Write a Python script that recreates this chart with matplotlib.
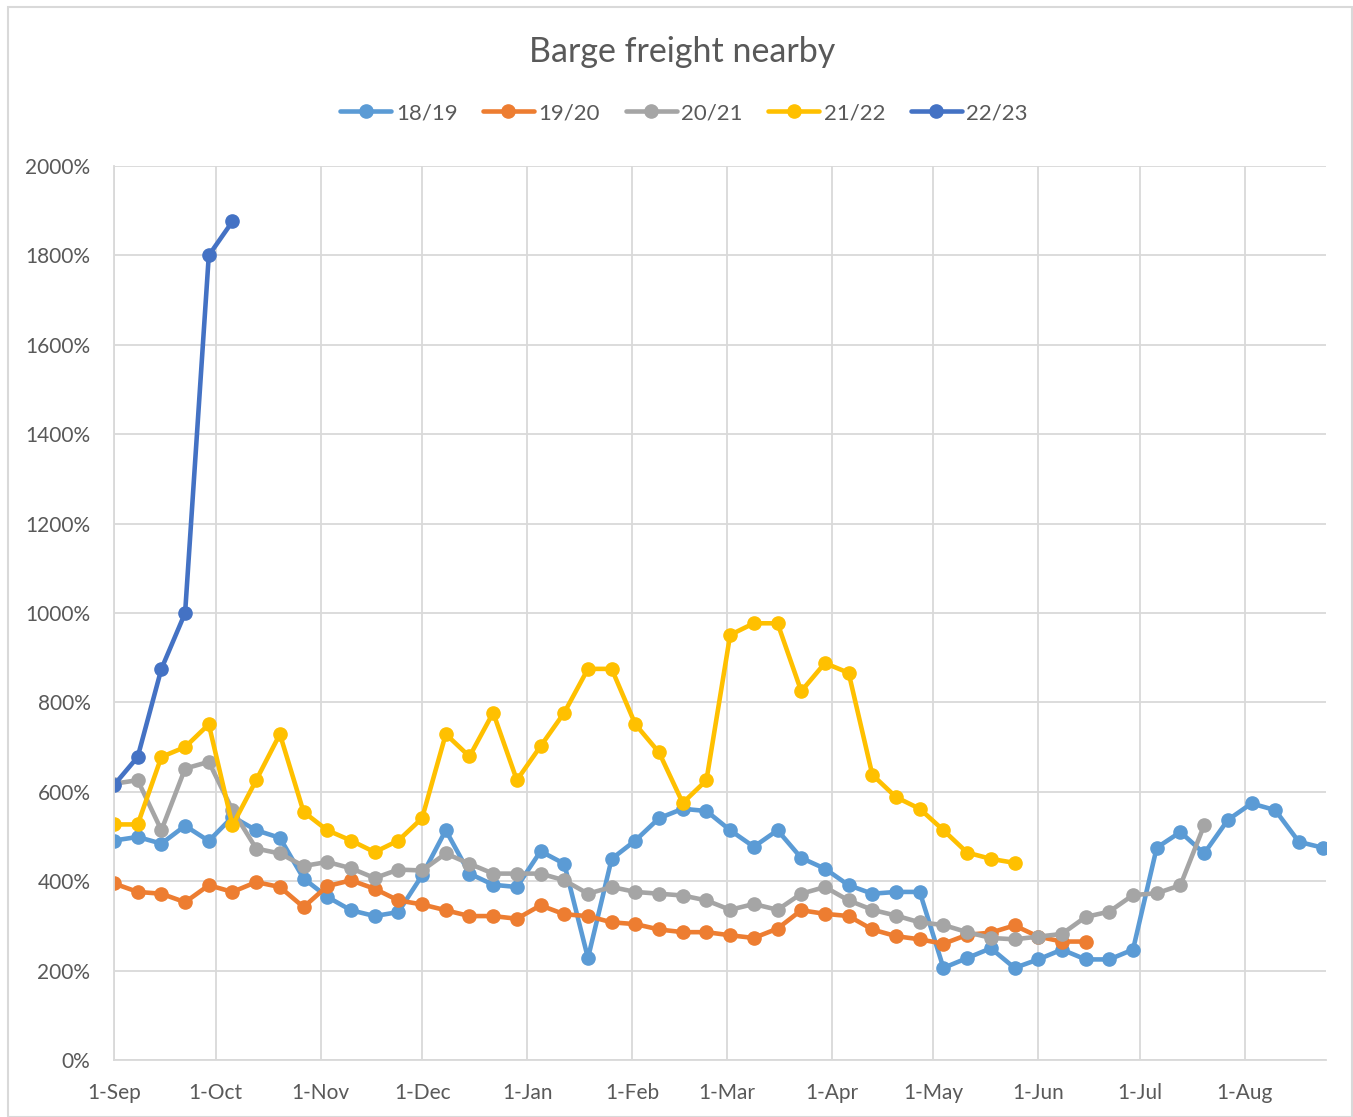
import pandas as pd
import matplotlib
matplotlib.use("Agg")
import matplotlib.pyplot as plt
import matplotlib.dates as mdates
from matplotlib.patches import Rectangle
from matplotlib.ticker import MultipleLocator, FuncFormatter

# weekly observations, season starts 1-Sep
start = pd.Timestamp("2018-09-01")

s1819 = [491, 499, 484, 524, 490, 544, 514, 497, 406, 365, 335, 322, 331, 413,
         514, 417, 392, 387, 467, 439, 228, 450, 491, 541, 562, 557, 514, 477,
         514, 452, 428, 391, 372, 376, 376, 206, 228, 250, 206, 225, 247, 225,
         225, 247, 475, 510, 462, 537, 574, 559, 488, 475]
s1920 = [395, 376, 372, 353, 391, 376, 398, 387, 342, 389, 402, 383, 357, 348,
         335, 322, 322, 316, 346, 326, 322, 308, 304, 292, 286, 286, 279, 273,
         294, 335, 327, 322, 292, 277, 270, 260, 280, 285, 301, 276, 265, 265]
s2021 = [618, 626, 514, 652, 667, 559, 473, 462, 434, 443, 429, 407, 426, 424,
         462, 439, 417, 417, 417, 402, 372, 387, 376, 372, 368, 357, 336, 349,
         336, 372, 387, 357, 336, 323, 308, 302, 286, 273, 270, 276, 282, 320,
         332, 369, 373, 391, 525]
s2122 = [527, 527, 678, 700, 751, 525, 626, 729, 555, 514, 491, 465, 491, 541,
         729, 679, 777, 626, 702, 777, 875, 875, 751, 688, 575, 626, 951, 977,
         977, 825, 888, 866, 638, 588, 562, 514, 464, 450, 441]
s2223 = [615, 678, 875, 1000, 1800, 1876]

series = [
    ("18/19", s1819, "#5B9BD5"),
    ("19/20", s1920, "#ED7D31"),
    ("20/21", s2021, "#A5A5A5"),
    ("21/22", s2122, "#FFC000"),
    ("22/23", s2223, "#4472C4"),
]

plt.rcParams["font.family"] = ["Lato", "DejaVu Sans"]
text_color = "#595959"
grid_color = "#D9D9D9"

fig = plt.figure(figsize=(13.53, 11.17), dpi=100)
ax = fig.add_axes([114 / 1353, 57 / 1117, 1212 / 1353, 894 / 1117])

for name, vals, color in series:
    dates = pd.date_range(start, periods=len(vals), freq="7D")
    ax.plot(dates, vals, color=color, lw=3.3, marker="o", markersize=9.5,
            label=name, solid_capstyle="round", solid_joinstyle="round")

ax.set_xlim(start, start + pd.Timedelta(days=358))
ax.set_ylim(0, 2000)
ax.yaxis.set_major_locator(MultipleLocator(200))
ax.yaxis.set_major_formatter(FuncFormatter(lambda v, p: f"{v:.0f}%"))
ax.xaxis.set_major_locator(mdates.MonthLocator())
ax.xaxis.set_major_formatter(mdates.DateFormatter("%-d-%b"))

ax.grid(True, color=grid_color, lw=1.3)
ax.set_axisbelow(True)
for side in ["top", "right"]:
    ax.spines[side].set_visible(False)
for side in ["left", "bottom"]:
    ax.spines[side].set_color(grid_color)
    ax.spines[side].set_linewidth(1.3)
ax.tick_params(axis="both", length=0, labelsize=15, labelcolor=text_color)
ax.tick_params(axis="y", pad=17)
ax.tick_params(axis="x", pad=16.5)

fig.text(682 / 1353, 1 - 52 / 1117, "Barge freight nearby", ha="center",
         va="center", fontsize=24.5, color=text_color)

fig.legend(loc="center", bbox_to_anchor=(684 / 1353, 1 - 113 / 1117), ncol=5,
           frameon=False, fontsize=16, handlelength=2.3, handletextpad=0.2,
           columnspacing=1.15, labelcolor=text_color)

fig.patches.append(Rectangle((8 / 1353, 0), 1344 / 1353, 1 - 7 / 1117,
                             transform=fig.transFigure, fill=False,
                             edgecolor=grid_color, lw=1.5))

fig.savefig("out.png", dpi=100)
plt.close(fig)
